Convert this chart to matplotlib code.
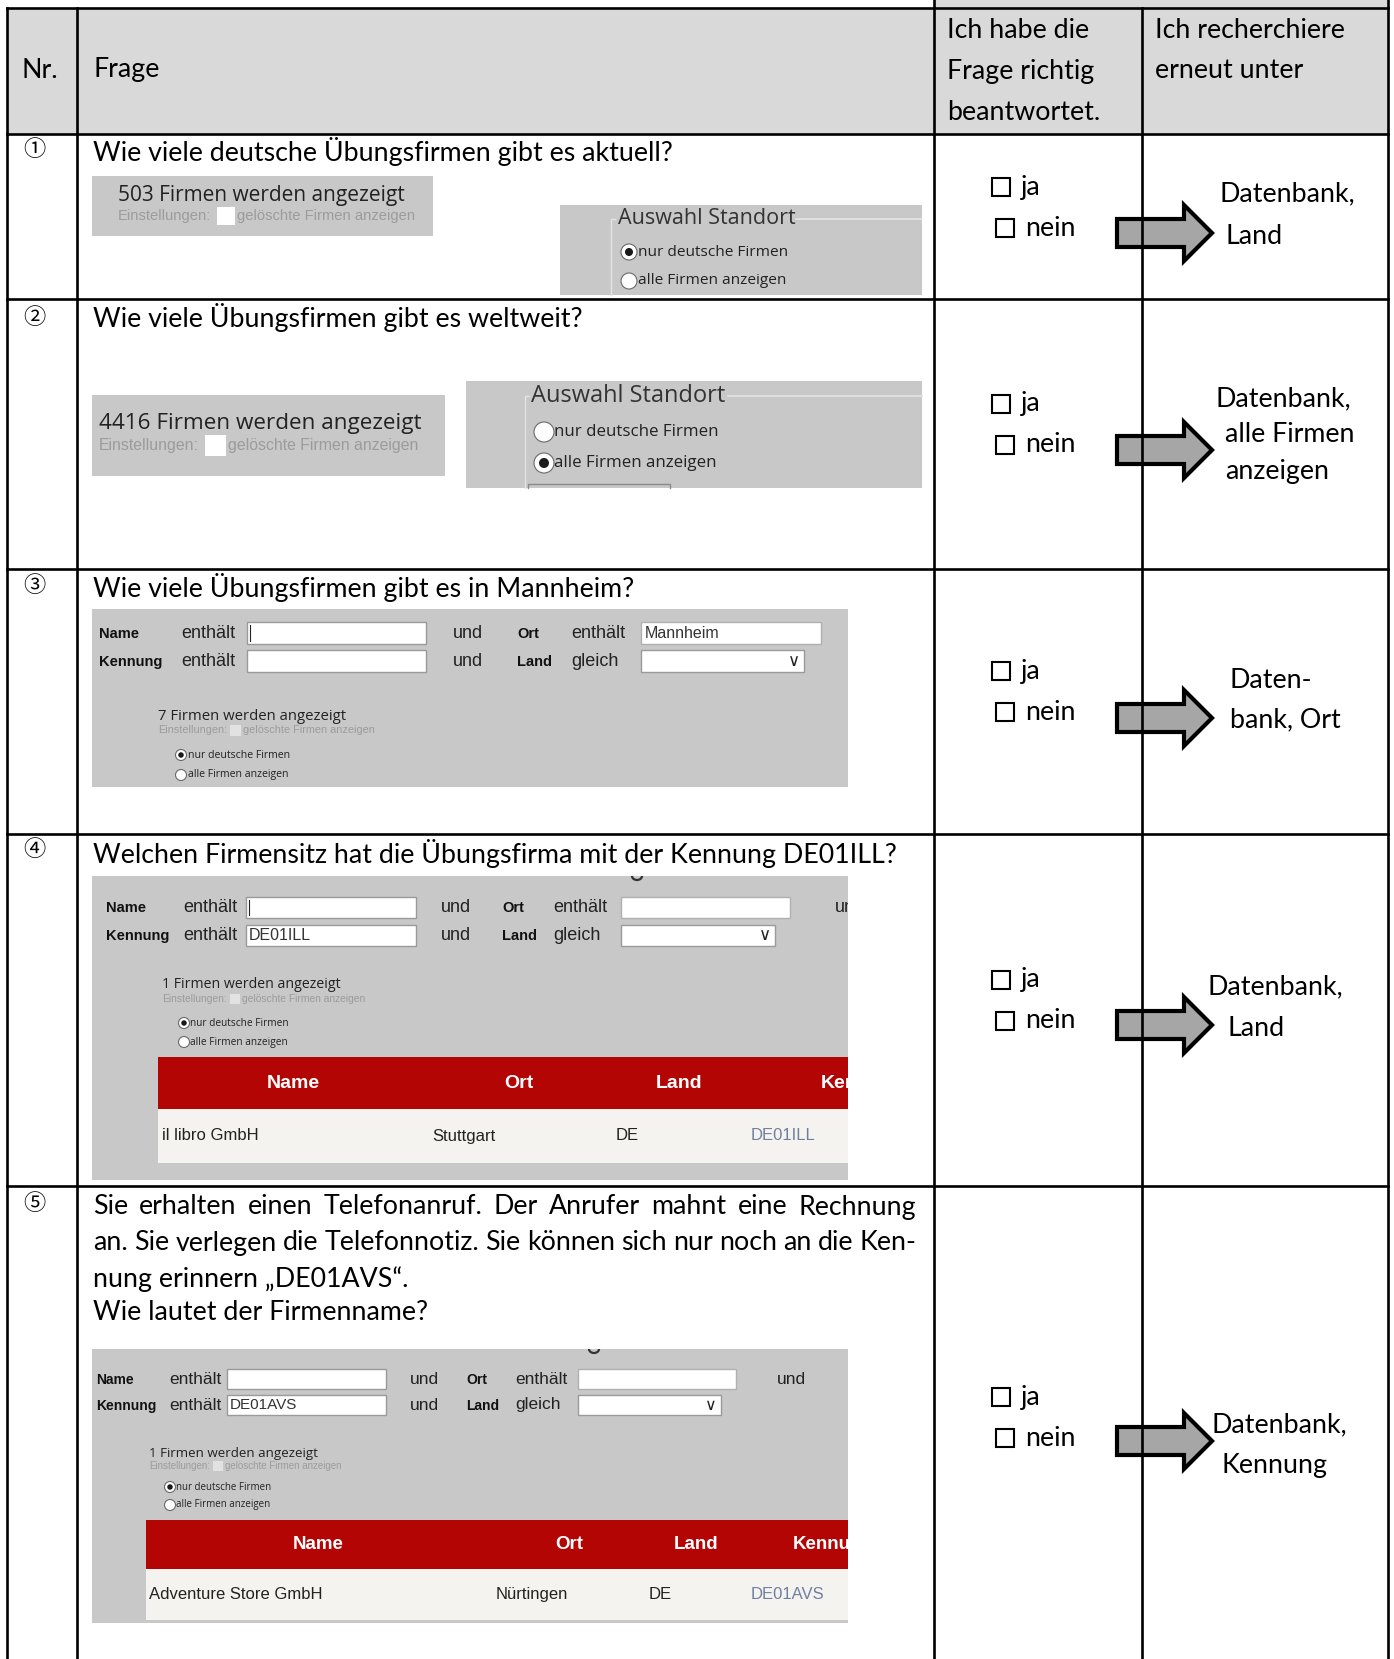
import matplotlib
matplotlib.use('Agg')
import matplotlib.pyplot as plt
from matplotlib.patches import Rectangle, Polygon, Circle, Arc
from matplotlib import font_manager

# ---------------------------------------------------------------------------
# content
header_nr = "Nr."
header_frage = "Frage"
header_check = ["Ich habe die", "Frage richtig", "beantwortet."]
header_research = ["Ich recherchiere", "erneut unter"]

numbers = ["\u2460", "\u2461", "\u2462", "\u2463", "\u2464"]
questions = [
    "Wie viele deutsche Übungsfirmen gibt es aktuell?",
    "Wie viele Übungsfirmen gibt es weltweit?",
    "Wie viele Übungsfirmen gibt es in Mannheim?",
    "Welchen Firmensitz hat die Übungsfirma mit der Kennung DE01ILL?",
]
question5 = [
    "Sie erhalten einen Telefonanruf. Der Anrufer mahnt eine Rechnung",
    "an. Sie verlegen die Telefonnotiz. Sie können sich nur noch an die Ken-",
    "nung erinnern \u201eDE01AVS\u201c.",
    "Wie lautet der Firmenname?",
]
hints = [["Datenbank,", "Land"],
         ["Datenbank,", "alle Firmen", "anzeigen"],
         ["Daten-", "bank, Ort"],
         ["Datenbank,", "Land"],
         ["Datenbank,", "Kennung"]]

firm_counts = [503, 4416, 7, 1, 1]
only_german = [True, False, True, True, True]
search_ort = ["", "", "Mannheim", "", ""]
search_kennung = ["", "", "", "DE01ILL", "DE01AVS"]
result_cols = ["Name", "Ort", "Land", "Kennung"]
result_rows = {3: ["il libro GmbH", "Stuttgart", "DE", "DE01ILL"],
               4: ["Adventure Store GmbH", "Nürtingen", "DE", "DE01AVS"]}

# ---------------------------------------------------------------------------
names = {f.name for f in font_manager.fontManager.ttflist}
NARROW = 'Liberation Sans Narrow' if 'Liberation Sans Narrow' in names else 'Liberation Sans'
MAIN = 'Lato'
UI = 'Open Sans'
ARIAL = 'Liberation Sans'
FS = 19.3

W, H = 1394, 1659
fig = plt.figure(figsize=(W / 100, H / 100), dpi=100)
ax = fig.add_axes([0, 0, 1, 1])
ax.set_xlim(0, W)
ax.set_ylim(H, 0)
ax.axis('off')
renderer = fig.canvas.get_renderer()

HEAD_BG = '#d9d9d9'
PANEL = '#c8c8c8'
RED = '#b40505'
ROW_BG = '#f4f3ef'
LINK = '#6f7f9f'


def rect(x0, y0, x1, y1, fc, ec='none', lw=0, z=1):
    p = Rectangle((x0, y0), x1 - x0, y1 - y0, fc=fc, ec=ec, lw=lw, zorder=z)
    ax.add_patch(p)
    return p


def txt(x, y, s, size, family=MAIN, color='black', ha='left', weight='normal', z=5, clip=None):
    t = ax.text(x, y, s, fontsize=size, family=family, color=color, ha=ha,
                va='center', fontweight=weight, zorder=z)
    if clip is not None:
        t.set_clip_on(True)
        t.set_clip_path(clip)
    return t


def justify(line, x0, x1, y, size):
    words = line.split(' ')
    while True:
        ts = [txt(0, y, w, size) for w in words]
        widths = [t.get_window_extent(renderer).width for t in ts]
        gap = (x1 - x0 - sum(widths)) / (len(words) - 1)
        if gap >= 4 or size < 12:
            break
        for t in ts:
            t.remove()
        size -= 0.2
    x = x0
    for t, w in zip(ts, widths):
        t.set_x(x)
        x += w + gap


def radio(cx, cy, r, on):
    ax.add_patch(Circle((cx, cy), r, fc='white', ec='#6a6a6a', lw=0.8, zorder=4))
    if on:
        ax.add_patch(Circle((cx, cy), r * 0.5, fc='#1a1a1a', ec='none', zorder=5))


def arrow(cy):
    x0, xb, xt = 1117, 1184, 1212
    pts = [(x0, cy - 14), (xb, cy - 14), (xb, cy - 28), (xt, cy),
           (xb, cy + 28), (xb, cy + 14), (x0, cy + 14)]
    ax.add_patch(Polygon(pts, closed=True, fc='#a6a6a6', ec='black', lw=3, zorder=6,
                         joinstyle='miter'))


def checkbox(x, y, s=18):
    rect(x, y - s / 2, x + s, y + s / 2, 'none', ec='black', lw=1.5, z=5)


def status_block(x, y, count, size, esize, box, rx, rys, r, rsize, on):
    txt(x, y, f"{count} Firmen werden angezeigt", size, family=UI, color='#222')
    ey = y + size * 1.35
    t = txt(x, ey, "Einstellungen:", esize, family=NARROW, color='#9c9c9c')
    w = t.get_window_extent(renderer).width
    bx = x + w + box * 0.3
    rect(bx, ey - box / 2, bx + box, ey + box / 2, '#e2e2e2' if box < 14 else 'white', z=3)
    txt(bx + box + 2, ey, "gelöschte Firmen anzeigen", esize, family=NARROW, color='#9c9c9c')
    if rys is not None:
        radio(rx, rys[0], r, on)
        radio(rx, rys[1], r, not on)
        txt(rx + r + 1, rys[0], "nur deutsche Firmen", rsize, family=UI, color='#222')
        txt(rx + r + 1, rys[1], "alle Firmen anzeigen", rsize, family=UI, color='#222')


def search_form(cols, y1, y2, bh, lsize, bsize, ort, ken, dd_end, caret, extra, clip):
    xn, xe, b0, b1, xu, xo, xe2, c0, c1 = cols
    for y, lab, lab2, word2 in [(y1, "Name", "Ort", "enthält"), (y2, "Kennung", "Land", "gleich")]:
        txt(xn, y + 1, lab, bsize, family=ARIAL, weight='bold', color='#111')
        txt(xe, y, "enthält", lsize, family=NARROW, color='#222')
        txt(xu, y, "und", lsize, family=NARROW, color='#222')
        txt(xo, y + 1, lab2, bsize, family=ARIAL, weight='bold', color='#111')
        txt(xe2, y, word2, lsize, family=NARROW, color='#222')
        rect(b0, y - bh / 2, b1, y + bh / 2, 'white', ec='#9a9a9a', lw=1, z=3)
    rect(c0, y1 - bh / 2, c1, y1 + bh / 2, 'white', ec='#b0b0b0', lw=1, z=3)
    rect(c0, y2 - bh / 2, dd_end, y2 + bh / 2, 'white', ec='#9a9a9a', lw=1, z=3)
    txt(dd_end - 10, y2, "\u2228", lsize - 1, family='DejaVu Sans', ha='center', color='#222')
    if caret:
        ax.plot([b0 + 3, b0 + 3], [y1 - bh / 2 + 3, y1 + bh / 2 - 3], color='#222', lw=0.8, zorder=6)
    if ort:
        txt(c0 + 4, y1, ort, lsize - 1.5, family=ARIAL, color='#333')
    if ken:
        txt(b0 + 3, y2, ken, lsize - 1.5, family=ARIAL, color='#333')
    if extra is not None:
        txt(extra, y1, "und", lsize, family=NARROW, color='#222', clip=clip)


def result_table(x0, x1, yh0, yh1, yd1, hx, dx, hsize, dsize, row):
    head = rect(x0, yh0, x1, yh1, RED, z=2)
    rect(x0, yh1, x1, yd1, ROW_BG, z=2)
    hy = (yh0 + yh1) / 2
    dy = (yh1 + yd1) / 2
    for i, c in enumerate(result_cols):
        ha = 'center' if i < 3 else 'left'
        txt(hx[i], hy, c, hsize, family=ARIAL, weight='bold', color='white', ha=ha, clip=head)
    for i, v in enumerate(row):
        txt(dx[i], dy, v, dsize, family=ARIAL, color=LINK if i == 3 else '#222')


def cut_heading(cx, top):
    # descender of a cut-off heading letter at the top edge of a screenshot
    ax.add_patch(Arc((cx, top), 10, 8, theta1=0, theta2=180, color='#333', lw=1.6, zorder=3))


# ---------------------------------------------------------------------------
# table frame
X = [7, 77, 934, 1142, 1388]
Y = [8, 134, 299, 569, 834, 1186]
rect(X[0], Y[0], X[4], Y[1], HEAD_BG, z=0)
rect(X[2], 0, X[4], Y[0], HEAD_BG, z=0)
LW = 1.9
for y in Y:
    ax.plot([X[0], X[4]], [y, y], color='black', lw=LW, zorder=8)
for i, x in enumerate(X):
    top = 0 if i in (2, 4) else Y[0]
    ax.plot([x, x], [top, H], color='black', lw=LW, zorder=8)

# header
txt(21, 70, header_nr, FS)
txt(93, 70, header_frage, FS)
for k, s in enumerate(header_check):
    txt(947, 30 + 41 * k, s, FS)
for k, s in enumerate(header_research):
    txt(1155, 30 + 41 * k, s, FS)

# numbers, questions
num_y = [150, 317, 585, 849, 1203]
q_y = [152, 318, 588, 854]
for n, y in zip(numbers, num_y):
    txt(34, y, n, 16, family=['Noto Sans CJK JP', 'DejaVu Sans'], ha='center')
for q, y in zip(questions, q_y):
    txt(93, y, q, FS)
q5_y = [1207, 1243, 1279, 1313]
justify(question5[0], 93, 916, q5_y[0], FS)
justify(question5[1], 93, 916, q5_y[1], FS)
txt(93, q5_y[2], question5[2], FS)
txt(93, q5_y[3], question5[3], FS)

# ja / nein, arrows, hints
ja_y = [187, 404, 671, 980, 1397]
arrow_y = [233, 450, 718, 1025, 1441]
hint_x = [[1220, 1226], [1216, 1225, 1225], [1230, 1230], [1207, 1228], [1212, 1222]]
hint_y = [[194, 236], [399, 435, 471], [680, 720], [987, 1028], [1425, 1466]]
for i in range(5):
    checkbox(992, ja_y[i])
    txt(1021, ja_y[i], "ja", FS)
    checkbox(996, ja_y[i] + 41)
    txt(1025, ja_y[i] + 41, "nein", FS)
    arrow(arrow_y[i])
    for s, hx, hy in zip(hints[i], hint_x[i], hint_y[i]):
        txt(hx, hy, s, FS)

# row 1 screenshots
rect(92, 176, 433, 236, PANEL)
status_block(118, 196, firm_counts[0], 15, 10.6, 18, 0, None, 0, 0, True)
rect(560, 205, 922, 295, PANEL)
ax.plot([611, 611, 615], [295, 219, 219], color='#e4e4e4', lw=1, zorder=2)
ax.plot([796, 922], [219, 219], color='#e4e4e4', lw=1.2, zorder=2)
txt(618, 219, "Auswahl Standort", 15.5, family=UI, color='#333')
radio(629, 252, 8, only_german[0])
radio(629, 281, 8, not only_german[0])
txt(638, 252, "nur deutsche Firmen", 11.1, family=UI, color='#222')
txt(638, 281, "alle Firmen anzeigen", 11.1, family=UI, color='#222')

# row 2 screenshots
rect(92, 395, 445, 476, PANEL)
status_block(99, 424, firm_counts[1], 16.2, 11.4, 21, 0, None, 0, 0, True)
rect(466, 381, 922, 488, PANEL)
ax.plot([525, 525, 529], [488, 396, 396], color='#e4e4e4', lw=1, zorder=2)
ax.plot([728, 922], [396, 396], color='#e4e4e4', lw=1.2, zorder=2)
ax.plot([528, 528, 670, 670], [488, 484, 484, 488], color='#8a8a8a', lw=1, zorder=2)
txt(531, 396, "Auswahl Standort", 17, family=UI, color='#333')
radio(544, 432, 10, only_german[1])
radio(544, 463, 10, not only_german[1])
txt(554, 432, "nur deutsche Firmen", 12.2, family=UI, color='#222')
txt(554, 463, "alle Firmen anzeigen", 12.2, family=UI, color='#222')

# row 3 screenshot
rect(92, 609, 848, 787, PANEL)
search_form([99, 181, 247, 426, 453, 517, 571, 641, 821], 633, 661, 22, 13, 10.5,
            search_ort[2], search_kennung[2], 804, True, None, None)
status_block(158, 716, firm_counts[2], 10.7, 7.8, 11, 181, [755, 775], 5.5, 7.6, only_german[2])

# row 4 screenshot
p4 = rect(92, 876, 848, 1180, PANEL)
cut_heading(637, 876)
search_form([106, 183, 246, 416, 441, 502, 553, 621, 790], 907, 935, 21, 13, 10.5,
            search_ort[3], search_kennung[3], 775, True, 835, p4)
status_block(162, 985, firm_counts[3], 10.2, 7.4, 10, 184, [1023, 1042], 5.5, 7.3, only_german[3])
result_table(158, 848, 1057, 1109, 1163, [293, 519, 679, 821], [162, 432, 616, 751],
             14, 12, result_rows[3])

# row 5 screenshot
p5 = rect(92, 1349, 848, 1623, PANEL)
cut_heading(594, 1349)
search_form([96, 169, 227, 386, 410, 466, 515, 578, 736], 1379, 1405, 20, 12.5, 10,
            search_ort[4], search_kennung[4], 721, False, 777, p5)
status_block(149, 1453, firm_counts[4], 9.6, 7.0, 10, 170, [1487, 1505], 5.5, 7, only_german[4])
result_table(146, 848, 1520, 1569, 1620, [318, 569, 696, 793], [149, 496, 649, 751],
             13.5, 12, result_rows[4])

fig.savefig('out.png', dpi=100)
